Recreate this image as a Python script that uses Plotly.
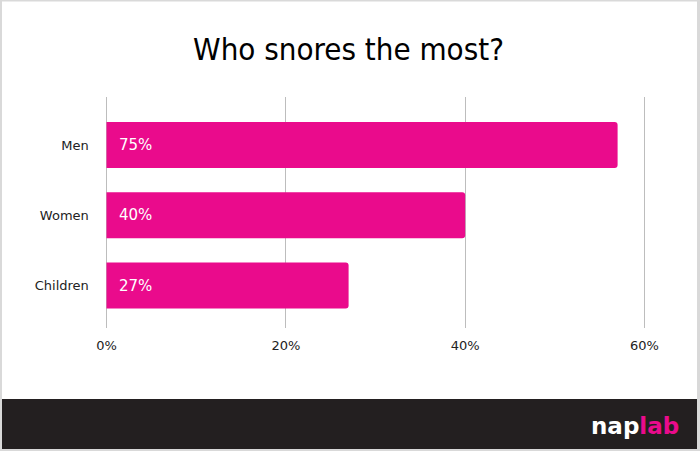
import plotly.graph_objects as go

categories = ["Men", "Women", "Children"]
bar_values = [57, 40, 27]
bar_labels = ["75%", "40%", "27%"]
tick_vals = [0, 20, 40, 60]
tick_text = ["0%", "20%", "40%", "60%"]
title_text = "Who snores the most?"

W, H = 700, 451
PINK = "#EA0B8C"

def px_x(p):
    return p / W

def px_y(p):
    return 1 - p / H

fig = go.Figure()
fig.add_trace(go.Bar(
    y=categories, x=bar_values, orientation="h",
    marker=dict(color=PINK, line=dict(width=0), cornerradius=3),
    width=0.655, hoverinfo="skip",
))

for c, lab in zip(categories, bar_labels):
    fig.add_annotation(x=0, y=c, xref="x", yref="y", text=lab, showarrow=False,
                       xanchor="left", yanchor="middle", xshift=10,
                       font=dict(family="DejaVu Sans", size=15, color="white"))

shapes = [
    dict(type="rect", xref="paper", yref="paper", x0=0, x1=1, y0=0, y1=1,
         fillcolor="#d9d9d9", line=dict(width=0), layer="below"),
    dict(type="rect", xref="paper", yref="paper", x0=px_x(2), x1=px_x(697), y0=px_y(399), y1=px_y(1.5),
         fillcolor="white", line=dict(width=0), layer="below"),
    dict(type="rect", xref="paper", yref="paper", x0=px_x(2), x1=px_x(697), y0=px_y(449), y1=px_y(399),
         fillcolor="#231f20", line=dict(width=0), layer="above"),
]

fig.add_annotation(xref="paper", yref="paper", x=px_x(681), y=px_y(426), xanchor="right", yanchor="middle",
                   showarrow=False,
                   text="<b>nap</b><b><span style='color:%s'>lab</span></b>" % PINK,
                   font=dict(family="DejaVu Sans", size=23, color="white"))

ppu = (644.5 - 106.5) / 60.0
pad = 0.3
fig.update_layout(
    width=W, height=H,
    margin=dict(l=0, r=0, t=0, b=0, pad=0),
    paper_bgcolor="white", plot_bgcolor="rgba(0,0,0,0)",
    showlegend=False,
    shapes=shapes,
    title=dict(text=title_text, x=px_x(348.5), xanchor="center", xref="paper", yref="paper",
               y=px_y(49), yanchor="middle", automargin=False,
               font=dict(family="DejaVu Sans Condensed, Liberation Sans Narrow, sans-serif", size=31, color="black")),
    xaxis=dict(domain=[px_x(106.5 - pad * ppu), px_x(644.5 + pad * ppu)], range=[-pad, 60 + pad],
               tickvals=tick_vals, ticktext=tick_text, automargin=False,
               showgrid=True, gridcolor="#bdbdbd", gridwidth=1, zeroline=False, showline=False,
               ticks="", ticklabelstandoff=8,
               tickfont=dict(family="DejaVu Sans", size=13, color="#222")),
    yaxis=dict(domain=[px_y(328), px_y(97)], range=[2.605, -0.683], type="category", automargin=False,
               showgrid=False, zeroline=False, showline=False, ticks="", ticklabelstandoff=14,
               tickfont=dict(family="DejaVu Sans", size=13, color="#222")),
)

fig.write_html("out.html", config={"displayModeBar": False},
               post_script="document.body.style.margin='0';document.body.style.padding='0';")
